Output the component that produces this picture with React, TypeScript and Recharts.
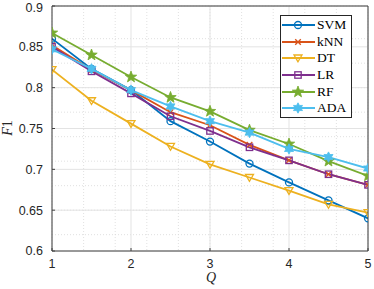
import React from "react";
import {
  LineChart,
  Line,
  XAxis,
  YAxis,
  CartesianGrid,
  Label,
} from "recharts";

const qValues = [1, 1.5, 2, 2.5, 3, 3.5, 4, 4.5, 5];
const svm = [0.86, 0.823, 0.797, 0.759, 0.734, 0.707, 0.684, 0.662, 0.64];
const knn = [0.852, 0.822, 0.797, 0.77, 0.754, 0.73, 0.711, 0.694, 0.681];
const dt = [0.822, 0.784, 0.756, 0.728, 0.706, 0.69, 0.674, 0.657, 0.647];
const lr = [0.85, 0.82, 0.793, 0.765, 0.747, 0.727, 0.711, 0.694, 0.681];
const rf = [0.867, 0.84, 0.813, 0.788, 0.771, 0.748, 0.731, 0.71, 0.692];
const ada = [0.847, 0.823, 0.797, 0.777, 0.759, 0.745, 0.725, 0.715, 0.701];

const xTicks = [1, 2, 3, 4, 5];
const yTicks = [0.6, 0.65, 0.7, 0.75, 0.8, 0.85, 0.9];

type Shape = "circle" | "cross" | "triangle" | "square" | "pentagram" | "hexagram";

const SERIES: { key: string; color: string; shape: Shape }[] = [
  { key: "SVM", color: "#0072BD", shape: "circle" },
  { key: "kNN", color: "#D95319", shape: "cross" },
  { key: "DT", color: "#EDB120", shape: "triangle" },
  { key: "LR", color: "#7E2F8E", shape: "square" },
  { key: "RF", color: "#77AC30", shape: "pentagram" },
  { key: "ADA", color: "#4DBEEE", shape: "hexagram" },
];

const data = qValues.map((q, i) => ({
  q,
  SVM: svm[i],
  kNN: knn[i],
  DT: dt[i],
  LR: lr[i],
  RF: rf[i],
  ADA: ada[i],
}));

// minor grid positions (MATLAB style)
const minorX: number[] = [];
for (let v = 1; v <= 5.001; v += 0.2) minorX.push(+v.toFixed(2));
const minorY: number[] = [];
for (let v = 0.6; v <= 0.9001; v += 0.01) minorY.push(+v.toFixed(3));

function starPoints(n: number, outer: number, inner: number, cx: number, cy: number) {
  const pts: string[] = [];
  for (let i = 0; i < n * 2; i++) {
    const r = i % 2 === 0 ? outer : inner;
    const a = -Math.PI / 2 + (i * Math.PI) / n;
    pts.push(`${cx + r * Math.cos(a)},${cy + r * Math.sin(a)}`);
  }
  return pts.join(" ");
}

function Marker({ cx, cy, color, shape }: { cx: number; cy: number; color: string; shape: Shape }) {
  const sw = 1.3;
  switch (shape) {
    case "circle":
      return <circle cx={cx} cy={cy} r={3.5} fill="none" stroke={color} strokeWidth={sw} />;
    case "cross":
      return (
        <g stroke={color} strokeWidth={sw}>
          <line x1={cx - 2.8} y1={cy - 2.8} x2={cx + 2.8} y2={cy + 2.8} />
          <line x1={cx - 2.8} y1={cy + 2.8} x2={cx + 2.8} y2={cy - 2.8} />
        </g>
      );
    case "triangle":
      return (
        <polygon
          points={`${cx},${cy + 3.8} ${cx - 4},${cy - 3} ${cx + 4},${cy - 3}`}
          fill="none"
          stroke={color}
          strokeWidth={sw}
        />
      );
    case "square":
      return <rect x={cx - 3.2} y={cy - 3.2} width={6.4} height={6.4} fill="none" stroke={color} strokeWidth={sw} />;
    case "pentagram":
      return <polygon points={starPoints(5, 6, 2.5, cx, cy)} fill={color} stroke={color} strokeWidth={0.8} />;
    case "hexagram":
      return <polygon points={starPoints(6, 5.2, 2.9, cx, cy)} fill={color} stroke={color} strokeWidth={0.8} />;
  }
  return null;
}

const tickStyle = { fontFamily: "Liberation Sans, Arial, sans-serif", fontSize: 12.5, fill: "#262626" };
const axisColor = "#404040";

function ChartLegend() {
  return (
    <div
      style={{
        position: "absolute",
        left: 280,
        top: 15,
        width: 72,
        height: 103,
        boxSizing: "border-box",
        border: "1px solid #262626",
        background: "#fff",
        fontFamily: "Liberation Serif, Times New Roman, serif",
        fontSize: 13.5,
        color: "#000",
        paddingTop: 1,
      }}
    >
      {SERIES.map((s) => (
        <div key={s.key} style={{ display: "flex", alignItems: "center", height: 16.6 }}>
          <svg width={35} height={14} style={{ marginLeft: 0 }}>
            <line x1={1} y1={7} x2={34} y2={7} stroke={s.color} strokeWidth={1.8} />
            <Marker cx={17} cy={7} color={s.color} shape={s.shape} />
          </svg>
          <span style={{ marginLeft: 1, lineHeight: "14px" }}>{s.key}</span>
        </div>
      ))}
    </div>
  );
}

export default function App() {
  return (
    <div style={{ position: "absolute", left: 0, top: 0, width: 374, height: 289, background: "#fff" }}>
      <LineChart width={374} height={289} data={data} margin={{ top: 5, right: 5, bottom: 0, left: 0 }}>
        <CartesianGrid
          verticalValues={minorX}
          horizontalValues={minorY}
          stroke="#d9d9d9"
          strokeDasharray="1 2"
          strokeWidth={0.8}
        />
        <CartesianGrid verticalValues={xTicks} horizontalValues={yTicks} stroke="#e3e3e3" strokeWidth={1} />
        <XAxis
          dataKey="q"
          type="number"
          domain={[1, 5]}
          ticks={xTicks}
          height={38}
          tick={tickStyle}
          tickSize={-3}
          tickMargin={11}
          stroke={axisColor}
          allowDataOverflow
        >
          <Label
            content={() => (
              <text
                x={211}
                y={282}
                textAnchor="middle"
                fontFamily="Liberation Serif, Times New Roman, serif"
                fontStyle="italic"
                fontSize={14}
                fill="#262626"
              >
                Q
              </text>
            )}
          />
        </XAxis>
        <XAxis
          xAxisId="top"
          orientation="top"
          dataKey="q"
          type="number"
          domain={[1, 5]}
          ticks={xTicks}
          height={1}
          tick={false}
          tickSize={-3}
          stroke={axisColor}
        />
        <YAxis
          type="number"
          domain={[0.6, 0.9]}
          ticks={yTicks}
          width={52}
          tick={tickStyle}
          tickFormatter={(v: number) => String(+v.toFixed(2))}
          tickSize={-3}
          tickMargin={12}
          stroke={axisColor}
          allowDataOverflow
        >
          <Label
            content={() => (
              <text
                transform="translate(12,128) rotate(-90)"
                textAnchor="middle"
                fontFamily="Liberation Serif, Times New Roman, serif"
                fontSize={14}
                fill="#262626"
              >
                <tspan fontStyle="italic">F</tspan>
                <tspan>1</tspan>
              </text>
            )}
          />
        </YAxis>
        <YAxis
          yAxisId="right"
          orientation="right"
          type="number"
          domain={[0.6, 0.9]}
          ticks={yTicks}
          width={1}
          tick={false}
          tickSize={-3}
          stroke={axisColor}
        />
        {SERIES.map((s) => (
          <Line
            key={s.key}
            dataKey={s.key}
            stroke={s.color}
            strokeWidth={1.8}
            isAnimationActive={false}
            dot={(p: any) => (
              <Marker key={`${s.key}-${p.index}`} cx={p.cx} cy={p.cy} color={s.color} shape={s.shape} />
            )}
            activeDot={false}
          />
        ))}
      </LineChart>
      <ChartLegend />
    </div>
  );
}
